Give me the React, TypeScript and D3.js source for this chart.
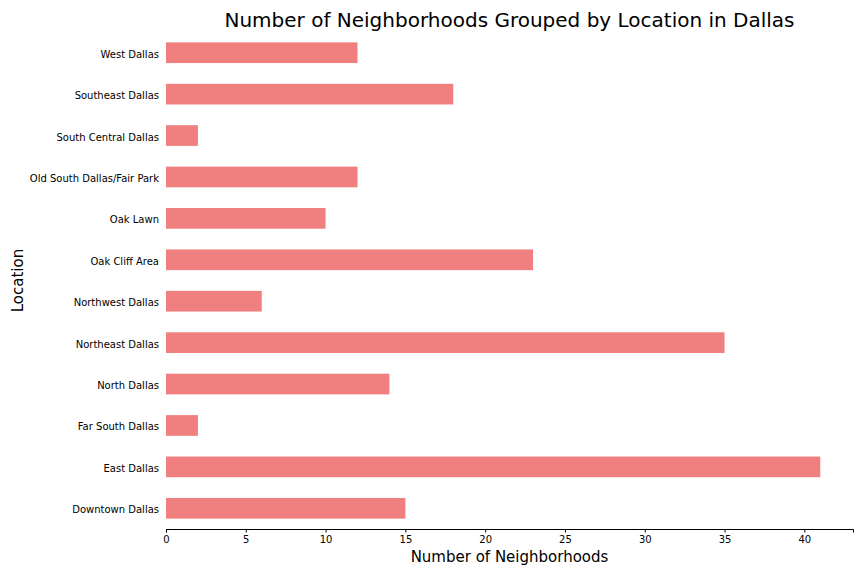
import { useEffect, useRef } from "react";
import * as d3 from "d3";

const locations = [
  "Downtown Dallas",
  "East Dallas",
  "Far South Dallas",
  "North Dallas",
  "Northeast Dallas",
  "Northwest Dallas",
  "Oak Cliff Area",
  "Oak Lawn",
  "Old South Dallas/Fair Park",
  "South Central Dallas",
  "Southeast Dallas",
  "West Dallas",
];
const counts = [15, 41, 2, 14, 35, 6, 23, 10, 12, 2, 18, 12];
const xTicks = [0, 5, 10, 15, 20, 25, 30, 35, 40];

export default function App() {
  const ref = useRef<SVGSVGElement>(null);

  useEffect(() => {
    const width = 864;
    const height = 576;
    const margin = { top: 32, right: 11, bottom: 47, left: 166 };
    const font = "DejaVu Sans, sans-serif";

    const svg = d3.select(ref.current);
    svg.selectAll("*").remove();

    // x scale: 0..max with matplotlib 5% margin
    const x = d3.scaleLinear([0, 41 * 1.05], [margin.left, width - margin.right]);
    // y: category index, -0.5 at bottom, n-0.5 at top
    const y = d3.scaleLinear([-0.5, locations.length - 0.5], [height - margin.bottom, margin.top]);
    const barH = y(0) - y(0.5);

    // bars
    svg.append("g")
      .selectAll("rect")
      .data(counts)
      .join("rect")
      .attr("x", x(0))
      .attr("y", (d, i) => y(i) - barH / 2)
      .attr("width", (d) => x(d) - x(0))
      .attr("height", barH)
      .attr("fill", "#f08080");

    // x axis
    const xAxis = svg.append("g")
      .attr("transform", `translate(0,${height - margin.bottom})`)
      .call(d3.axisBottom(x).tickValues(xTicks).tickSizeOuter(0).tickSize(3.5).tickPadding(3));
    xAxis.selectAll("text").style("font-family", font).style("font-size", "10px").attr("fill", "#000");
    xAxis.select(".domain").attr("stroke", "#000").attr("stroke-width", 1);
    xAxis.selectAll(".tick line").attr("stroke", "#000");

    // y tick labels (no spine, no ticks)
    svg.append("g")
      .selectAll("text")
      .data(locations)
      .join("text")
      .attr("x", x(0) - 7)
      .attr("y", (d, i) => y(i) + 1.5)
      .attr("dy", "0.35em")
      .attr("text-anchor", "end")
      .style("font-family", font)
      .style("font-size", "10px")
      .attr("fill", "#000")
      .text((d) => d);

    // labels
    svg.append("text")
      .attr("x", (margin.left + width - margin.right) / 2)
      .attr("y", 27)
      .attr("text-anchor", "middle")
      .style("font-family", font)
      .style("font-size", "20px")
      .text("Number of Neighborhoods Grouped by Location in Dallas");

    svg.append("text")
      .attr("x", (margin.left + width - margin.right) / 2)
      .attr("y", 562)
      .attr("text-anchor", "middle")
      .style("font-family", font)
      .style("font-size", "15px")
      .text("Number of Neighborhoods");

    svg.append("text")
      .attr("transform", `translate(23,${(margin.top + height - margin.bottom) / 2}) rotate(-90)`)
      .attr("text-anchor", "middle")
      .style("font-family", font)
      .style("font-size", "15px")
      .text("Location");
  }, []);

  return (
    <svg
      ref={ref}
      width={864}
      height={576}
      style={{ position: "absolute", left: 0, top: 0, background: "#fff" }}
    />
  );
}
